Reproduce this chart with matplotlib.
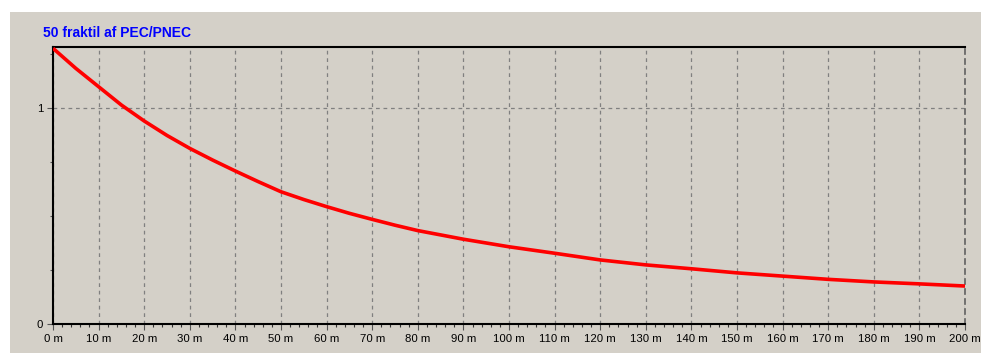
import matplotlib.pyplot as plt
from matplotlib.patches import Rectangle
from matplotlib.ticker import MultipleLocator

# distance (m) and 50 fraktil PEC/PNEC values
DIST = [0, 5, 10, 15, 20, 25, 30, 35, 40, 45, 50, 55, 60, 65, 70, 75, 80, 90, 100,
        110, 120, 130, 140, 150, 160, 170, 180, 190, 200]
RATIO = [1.278, 1.185, 1.100, 1.015, 0.941, 0.874, 0.814, 0.760, 0.709, 0.660,
         0.613, 0.577, 0.544, 0.513, 0.485, 0.458, 0.433, 0.393, 0.358, 0.328,
         0.297, 0.274, 0.256, 0.237, 0.222, 0.207, 0.195, 0.186, 0.176]
X_TICKS = list(range(0, 201, 10))
X_LABELS = [f"{v} m" for v in X_TICKS]
Y_TICKS = [0, 1]
TITLE = "50 fraktil af PEC/PNEC"

PANEL = "#d4d0c8"
W, H = 981, 353

plt.rcParams["font.family"] = ["Liberation Sans", "DejaVu Sans"]

fig = plt.figure(figsize=(W / 100, H / 100), dpi=100, facecolor="white")
fig.patches.append(Rectangle((10 / W, 0), 1 - 10 / W, 1 - 12 / H,
                             transform=fig.transFigure, facecolor=PANEL,
                             edgecolor="none", zorder=-10))

left, right, top, bottom = 53, 965, 47, 324
ax = fig.add_axes([left / W, 1 - bottom / H, (right - left) / W, (bottom - top) / H])
ax.set_facecolor(PANEL)

ax.plot(DIST, RATIO, color="#ff0000", linewidth=2.6, solid_capstyle="butt", zorder=3)

ax.set_xlim(0, 200)
ax.set_ylim(0, 1.284)
ax.set_xticks(X_TICKS)
ax.set_xticklabels(X_LABELS, fontsize=8.2)
ax.set_yticks(Y_TICKS)
ax.set_yticklabels([str(v) for v in Y_TICKS], fontsize=8.2)
ax.xaxis.set_minor_locator(MultipleLocator(2))
ax.yaxis.set_minor_locator(MultipleLocator(0.25))
ax.tick_params(axis="both", which="major", length=4, width=0.8, color="#555555", pad=3)
ax.tick_params(axis="x", which="minor", length=2, width=0.8, color="#333333")
ax.tick_params(axis="y", which="minor", length=2, width=0.8, color="#555555")

ax.grid(True, which="major", linestyle=(0, (3, 3)), color="#808080", linewidth=0.9)
for name in ("left", "top", "bottom"):
    ax.spines[name].set_color("black")
    ax.spines[name].set_linewidth(1.5)
ax.spines["right"].set_color("#606060")
ax.spines["right"].set_linestyle((0, (3, 3)))
ax.spines["right"].set_linewidth(1.2)

fig.text(43 / W, 1 - 33 / H, TITLE, color="#0000ff", fontsize=10,
         fontweight="bold", ha="left", va="center")

fig.savefig("out.png", dpi=100, facecolor="white")
